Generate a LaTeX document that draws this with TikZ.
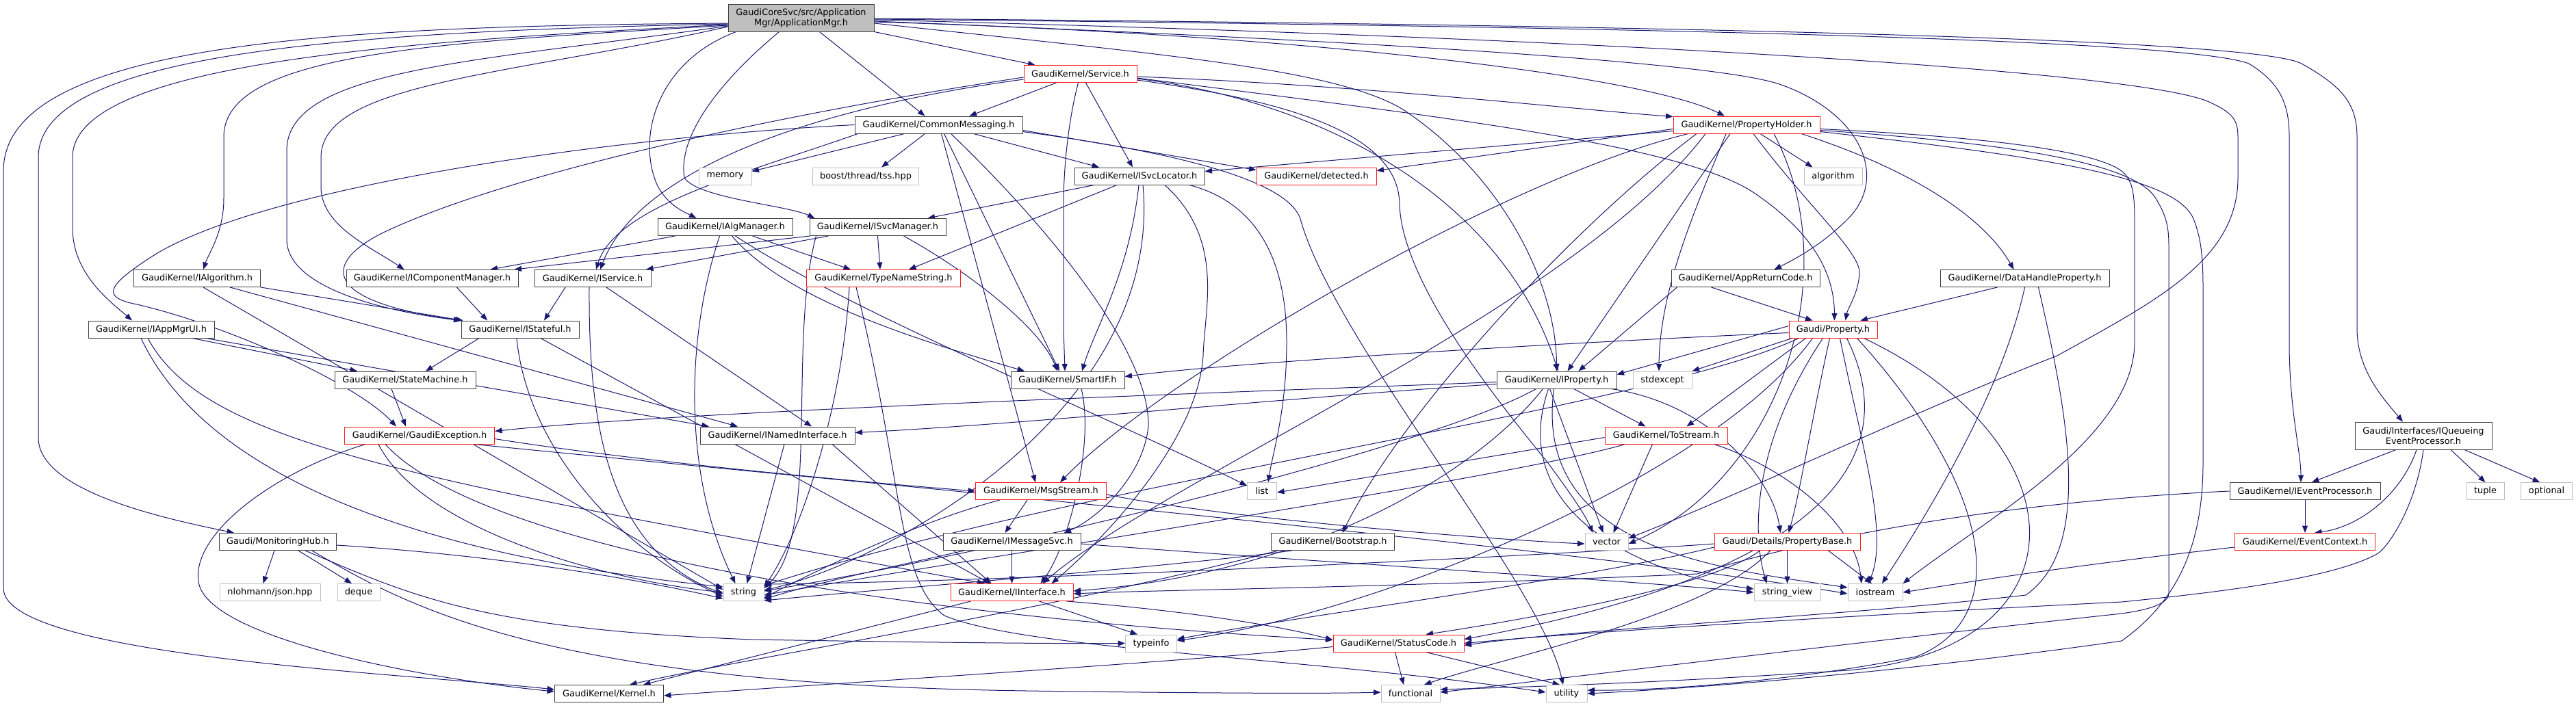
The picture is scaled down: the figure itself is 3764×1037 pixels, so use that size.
\documentclass[tikz,border=0pt]{standalone}
\usepackage{fontspec}
\setmainfont{DejaVu Sans}
\usetikzlibrary{arrows.meta}
\pgfdeclarelayer{bgfill}
\pgfdeclarelayer{edges}
\pgfsetlayers{bgfill,edges,main}
\definecolor{edgec}{HTML}{191970}
\definecolor{greyb}{HTML}{BFBFBF}
\definecolor{rootfill}{HTML}{BFBFBF}
\definecolor{darkb}{HTML}{404040}
\definecolor{redb}{HTML}{FF1A1A}
\begin{document}
\begin{tikzpicture}[x=1pt,y=-1pt,
  box/.style={draw=darkb, line width=1pt, fill=white, minimum height=25pt, inner sep=0pt, font=\fontsize{12.9}{15}\selectfont, align=center, text=black},
  redbox/.style={box, draw=redb},
  extbox/.style={box, draw=greyb},
  rootbox/.style={box, fill=rootfill, minimum height=40pt},
  tallbox/.style={box, minimum height=40pt},
  e/.style={draw=edgec, line width=1pt, -{Triangle[length=10.5pt,width=8pt]}}
]
\begin{pgfonlayer}{bgfill}
\fill[white] (0,0) rectangle (3764,1037);
\end{pgfonlayer}
\useasboundingbox (0,0) rectangle (3764,1037);

% ---------------- nodes ----------------
\node[rootbox,minimum width=213pt] (R) at (1170.5,26) {GaudiCoreSvc/src/Application\\Mgr/ApplicationMgr.h};
\node[redbox,minimum width=165pt] (Svc) at (1578.5,108) {GaudiKernel/Service.h};
\node[box,minimum width=245pt] (CM) at (1371.5,182.5) {GaudiKernel/CommonMessaging.h};
\node[redbox,minimum width=214pt] (PH) at (2552,182.5) {GaudiKernel/PropertyHolder.h};
\node[extbox,minimum width=77pt] (mem) at (1059.5,257.5) {memory};
\node[extbox,minimum width=155pt] (boost) at (1265,257.5) {boost/thread/tss.hpp};
\node[box,minimum width=190pt] (SL) at (1665,257.5) {GaudiKernel/ISvcLocator.h};
\node[redbox,minimum width=175pt] (det) at (1923.5,257.5) {GaudiKernel/detected.h};
\node[extbox,minimum width=85pt] (alg) at (2678.5,257.5) {algorithm};
\node[box,minimum width=197pt] (AM) at (1059.5,332) {GaudiKernel/IAlgManager.h};
\node[box,minimum width=199pt] (SM) at (1282.5,332) {GaudiKernel/ISvcManager.h};
\node[box,minimum width=185pt] (IA) at (288,407) {GaudiKernel/IAlgorithm.h};
\node[box,minimum width=251pt] (ICM) at (631.5,407) {GaudiKernel/IComponentManager.h};
\node[box,minimum width=170pt] (IS) at (866,407) {GaudiKernel/IService.h};
\node[redbox,minimum width=225pt] (TNS) at (1291,407) {GaudiKernel/TypeNameString.h};
\node[box,minimum width=217pt] (ARC) at (2550.5,407) {GaudiKernel/AppReturnCode.h};
\node[box,minimum width=247pt] (DHP) at (2958.5,407) {GaudiKernel/DataHandleProperty.h};
\node[box,minimum width=184pt] (UI) at (221,481.5) {GaudiKernel/IAppMgrUI.h};
\node[box,minimum width=172pt] (ISt) at (760,481.5) {GaudiKernel/IStateful.h};
\node[redbox,minimum width=129pt] (Prop) at (2678.5,481.5) {Gaudi/Property.h};
\node[box,minimum width=206pt] (StM) at (592,555.5) {GaudiKernel/StateMachine.h};
\node[box,minimum width=166pt] (SIF) at (1560,555.5) {GaudiKernel/SmartIF.h};
\node[box,minimum width=175pt] (IP) at (2274.5,555.5) {GaudiKernel/IProperty.h};
\node[extbox,minimum width=86pt] (stdx) at (2429,555.5) {stdexcept};
\node[redbox,minimum width=219pt] (GE) at (613,636.5) {GaudiKernel/GaudiException.h};
\node[box,minimum width=226pt] (INI) at (1136,636.5) {GaudiKernel/INamedInterface.h};
\node[redbox,minimum width=179pt] (TS) at (2434.5,636.5) {GaudiKernel/ToStream.h};
\node[tallbox,minimum width=200pt] (IQ) at (3541,637) {Gaudi/Interfaces/IQueueing\\EventProcessor.h};
\node[redbox,minimum width=191pt] (MS) at (1521,718) {GaudiKernel/MsgStream.h};
\node[extbox,minimum width=43pt] (list) at (1844,718) {list};
\node[box,minimum width=220pt] (IEP) at (3368,718) {GaudiKernel/IEventProcessor.h};
\node[extbox,minimum width=55pt] (tuple) at (3631.5,718) {tuple};
\node[extbox,minimum width=75pt] (opt) at (3721,718) {optional};
\node[box,minimum width=171pt] (MH) at (406,792) {Gaudi/MonitoringHub.h};
\node[box,minimum width=201pt] (IMS) at (1478.5,792) {GaudiKernel/IMessageSvc.h};
\node[box,minimum width=180pt] (BS) at (1947.5,792) {GaudiKernel/Bootstrap.h};
\node[extbox,minimum width=63pt] (vec) at (2347.5,792) {vector};
\node[redbox,minimum width=213pt] (PB) at (2611.5,792) {Gaudi/Details/PropertyBase.h};
\node[redbox,minimum width=205pt] (EC) at (3368,792) {GaudiKernel/EventContext.h};
\node[extbox,minimum width=147pt] (json) at (394.5,866) {nlohmann/json.hpp};
\node[extbox,minimum width=62pt] (deque) at (524,866) {deque};
\node[extbox,minimum width=59pt] (str) at (1086.5,866) {string};
\node[redbox,minimum width=179pt] (II) at (1478.5,866) {GaudiKernel/IInterface.h};
\node[extbox,minimum width=97pt] (sv) at (2611.5,866) {string\_view};
\node[extbox,minimum width=80pt] (ios) at (2740,866) {iostream};
\node[extbox,minimum width=75pt] (ti) at (1682,940.5) {typeinfo};
\node[redbox,minimum width=191pt] (SC) at (2043.5,940.5) {GaudiKernel/StatusCode.h};
\node[box,minimum width=159pt] (K) at (890,1014) {GaudiKernel/Kernel.h};
\node[extbox,minimum width=86pt] (fun) at (2061,1014) {functional};
\node[extbox,minimum width=60pt] (util) at (2289,1014) {utility};

% ---------------- edges ----------------
\begin{pgfonlayer}{edges}
% root
\draw[e] ([yshift=-8pt]R.west) .. controls (500,38) and (5,60) .. (5,250) -- (5,860) .. controls (5,960) and (600,985) .. ([yshift=6pt]K.west);
\draw[e] ([yshift=-9pt]R.west) .. controls (520,46) and (56,75) .. (56,230) -- (56,640) .. controls (56,720) and (250,760) .. ([xshift=22pt]MH.north west);
\draw[e] ([yshift=-10pt]R.west) .. controls (600,60) and (106,90) .. (106,230) -- (106,333) .. controls (106,400) and (160,440) .. ([xshift=-28pt]UI.north);
\draw[e] ([yshift=-11pt]R.west) .. controls (650,62) and (327,75) .. (327,200) -- (327,290) .. controls (327,340) and (305,370) .. ([xshift=9pt]IA.north);
\draw[e] ([yshift=-12pt]R.west) .. controls (700,90) and (419,100) .. (419,220) -- (419,350) .. controls (419,420) and (560,455) .. (ISt.north west);
\draw[e] ([yshift=-13pt]R.west) .. controls (750,110) and (469,120) .. (469,230) -- (469,273) .. controls (469,330) and (540,360) .. ([xshift=-41pt]ICM.north);
\draw[e] ([xshift=-95pt]R.south) .. controls (960,90) and (930,200) .. (960,270) .. controls (975,300) and (1000,310) .. ([xshift=-42pt]AM.north);
\draw[e] ([xshift=-32pt]R.south) .. controls (1050,120) and (990,200) .. (1000,260) .. controls (1020,290) and (1150,300) .. ([xshift=-92pt]SM.north);
\draw[e] ([xshift=27pt]R.south) -- ([xshift=-20pt]CM.north);
\draw[e] (R.south east) -- ([xshift=-66pt]Svc.north);
\draw[e] ([yshift=-8pt]R.east) .. controls (1700,80) and (1950,100) .. (2050,160) .. controls (2200,260) and (2274,420) .. (IP.north);
\draw[e] ([yshift=-6pt]R.east) .. controls (1900,50) and (2400,110) .. ([xshift=-32pt]PH.north);
\draw[e] ([yshift=-5pt]R.east) .. controls (2000,60) and (2500,90) .. (2600,123) .. controls (2720,165) and (2760,260) .. (2700,320) .. controls (2660,360) and (2620,380) .. ([xshift=42pt]ARC.north);
\draw[e] ([yshift=-2pt]R.east) .. controls (2500,40) and (3200,60) .. (3286,93) .. controls (3330,120) and (3345,150) .. (3345,200) -- (3345,500) .. controls (3345,600) and (3362,660) .. ([xshift=-6pt]IEP.north);
\draw[e] ([yshift=-1pt]R.east) .. controls (2600,38) and (3300,60) .. (3363,93) .. controls (3420,125) and (3444,150) .. (3444,200) -- (3444,480) .. controls (3444,540) and (3480,580) .. ([xshift=-30pt]IQ.north);
\draw[e] ([yshift=-3pt]R.east) .. controls (2500,60) and (3150,110) .. (3230,150) .. controls (3262,165) and (3270,175) .. (3270,200) -- (3270,260) .. controls (3270,380) and (3150,440) .. (3006,520) .. controls (2800,600) and (2550,720) .. ([yshift=5pt]vec.east);
% Service
\draw[e] ([xshift=-35pt]Svc.south) -- ([xshift=45pt]CM.north);
\draw[e] ([xshift=8pt]Svc.south) -- ([xshift=-10pt]SL.north);
\draw[e] ([xshift=-3pt]Svc.south) .. controls (1560,180) and (1554,250) .. (1554,300) -- (1554,480) -- ([xshift=-4pt]SIF.north);
\draw[e] ([yshift=-4pt]Svc.east) .. controls (2000,125) and (2300,160) .. ([yshift=12pt]PH.west);
\draw[e] ([yshift=-6pt]Svc.east) .. controls (2100,170) and (2450,210) .. (2560,280) .. controls (2650,340) and (2680,400) .. ([xshift=2pt]Prop.north);
\draw[e] ([yshift=-9pt]Svc.east) .. controls (1900,150) and (2045,200) .. (2045,300) .. controls (2050,420) and (2200,600) .. (2262,677) .. controls (2290,715) and (2315,750) .. ([xshift=-20pt]vec.north);
\draw[e] ([yshift=-7pt]Svc.east) .. controls (1950,150) and (2200,300) .. ([xshift=2pt]IP.north);
\draw[e] ([yshift=-8pt]Svc.west) .. controls (1100,170) and (920,280) .. ([xshift=11pt]IS.north);
\draw[e] ([yshift=-5pt]Svc.west) .. controls (1150,165) and (750,250) .. (560,340) .. controls (470,385) and (470,440) .. (ISt.north west);
% CommonMessaging
\draw[e] ([xshift=-20pt]CM.south) -- ([xshift=23pt]boost.north);
\draw[e] ([xshift=-50pt]CM.south) -- ([yshift=7pt]mem.east);
\draw[e] ([xshift=51pt]CM.south) -- ([xshift=-59pt]SL.north);
\draw[e] ([yshift=-8pt]CM.east) -- ([yshift=9pt]det.west);
\draw[e] ([xshift=8pt]CM.south) -- ([xshift=-12pt]SIF.north);
\draw[e] ([xshift=4pt]CM.south) -- ([xshift=-8pt]MS.north);
\draw[e] ([xshift=18pt]CM.south) .. controls (1550,350) and (1680,520) .. (1678,623) .. controls (1670,700) and (1600,760) .. ([xshift=76pt]IMS.north);
\draw[e] ([yshift=-10pt]CM.east) .. controls (1700,220) and (1880,260) .. (1900,320) .. controls (1950,500) and (2250,850) .. ([xshift=-5pt]util.north);
\draw[e] (CM.west) .. controls (900,200) and (400,270) .. (230,370) .. controls (150,420) and (150,435) .. (200,445) .. controls (330,475) and (520,560) .. ([xshift=-34pt]GE.north);
\draw[e] ([xshift=5pt]CM.south west) .. controls (1100,250) and (900,300) .. ([xshift=5pt]IS.north);
% PropertyHolder
\draw[e] ([yshift=-6pt]PH.west) -- ([yshift=8pt]det.east);
\draw[e] ([yshift=-9pt]PH.west) -- ([yshift=7pt]SL.east);
\draw[e] ([xshift=20pt]PH.south) -- ([xshift=-30pt]alg.north);
\draw[e] ([xshift=80pt]PH.south) .. controls (2800,250) and (2900,320) .. ([xshift=-16pt]DHP.north);
\draw[e] ([xshift=10pt]PH.south) .. controls (2640,300) and (2720,370) .. (2717,400) .. controls (2715,430) and (2700,450) .. ([xshift=18pt]Prop.north);
\draw[e] ([xshift=-24pt]PH.south) -- ([xshift=16pt]IP.north);
\draw[e] ([xshift=-85pt]PH.south) .. controls (2200,260) and (1700,550) .. ([xshift=28pt]MS.north);
\draw[e] ([xshift=-73pt]PH.south) .. controls (2300,330) and (2050,600) .. ([xshift=14pt]BS.north);
\draw[e] ([xshift=-60pt]PH.south) .. controls (2300,450) and (1700,700) .. ([xshift=45pt]II.north);
\draw[e] ([xshift=-30pt]PH.south) .. controls (2480,300) and (2425,420) .. ([xshift=-5pt]stdx.north);
\draw[e] ([xshift=40pt]PH.south) .. controls (2700,400) and (2600,700) .. ([yshift=-3pt]vec.east);
\draw[e] ([yshift=-6pt]PH.east) .. controls (2900,200) and (3060,220) .. (3100,250) .. controls (3115,262) and (3119,280) .. (3119,320) -- (3119,500) .. controls (3119,640) and (2900,760) .. (ios.north east);
\draw[e] ([yshift=-8pt]PH.east) .. controls (2950,210) and (3120,240) .. (3150,290) .. controls (3165,315) and (3169,330) .. (3169,360) -- (3169,867) .. controls (3169,880) and (3150,890) .. (3100,897) .. controls (2700,940) and (2300,990) .. ([yshift=2pt]fun.east);
\draw[e] ([yshift=-10pt]PH.east) .. controls (3000,230) and (3180,260) .. (3205,320) .. controls (3215,345) and (3219,370) .. (3219,420) -- (3219,677) .. controls (3219,800) and (3180,880) .. (3100,937) .. controls (2800,980) and (2500,1005) .. (util.east);
% ISvcLocator
\draw[e] ([xshift=-66pt]SL.south) -- ([xshift=73pt]SM.north);
\draw[e] ([xshift=-33pt]SL.south) -- ([xshift=37pt]TNS.north);
\draw[e] ([xshift=-1pt]SL.south) .. controls (1650,400) and (1600,480) .. ([xshift=21pt]SIF.north);
\draw[e] ([xshift=37pt]SL.south) .. controls (1790,350) and (1760,450) .. (1758,520) .. controls (1750,650) and (1600,800) .. ([xshift=58pt]II.north);
\draw[e] ([xshift=73pt]SL.south) .. controls (1850,300) and (1880,400) .. (1880,500) .. controls (1880,600) and (1860,660) .. ([xshift=9pt]list.north);
\draw[e] ([xshift=5pt]SL.south) .. controls (1700,600) and (1300,820) .. ([yshift=3pt]str.east);
% IAlgManager
\draw[e] ([xshift=-73pt]AM.south) -- ([xshift=85pt]ICM.north);
\draw[e] ([xshift=40pt]AM.south) -- ([xshift=-48pt]TNS.north);
\draw[e] ([xshift=10pt]AM.south) .. controls (1150,440) and (1350,500) .. ([xshift=-63pt]SIF.north);
\draw[e] ([xshift=15pt]AM.south) .. controls (1250,460) and (1600,600) .. ([yshift=8pt]list.west);
\draw[e] ([xshift=-8pt]AM.south) .. controls (1000,500) and (1000,700) .. ([xshift=-12pt]str.north);
% ISvcManager
\draw[e] ([xshift=-99pt]SM.south) -- ([xshift=120pt]ICM.north);
\draw[e] ([xshift=-72pt]SM.south) -- ([xshift=78pt]IS.north);
\draw[e] (SM.south) -- ([xshift=-5pt]TNS.north);
\draw[e] ([xshift=38pt]SM.south) .. controls (1420,400) and (1520,480) .. ([xshift=-15pt]SIF.north);
\draw[e] ([xshift=-90pt]SM.south) .. controls (1150,500) and (1200,780) .. ([yshift=6pt]str.east);
% IAlgorithm, IComponentManager, IService
\draw[e] (IA.south east) -- ([xshift=3pt]ISt.north west);
\draw[e] ([xshift=48pt]IA.south) -- ([xshift=-58pt]INI.north);
\draw[e] ([xshift=9pt]IA.south) -- ([yshift=4pt]str.west);
\draw[e] ([xshift=-90pt]ICM.south east) -- ([xshift=-48pt]ISt.north);
\draw[e] ([xshift=-40pt]IS.south) -- ([xshift=35pt]ISt.north);
\draw[e] ([xshift=-5pt]IS.south) .. controls (860,600) and (880,800) .. ([yshift=-2pt]str.west);
\draw[e] ([xshift=20pt]IS.south) -- ([xshift=50pt]INI.north);
% TypeNameString, AppReturnCode, DataHandleProperty
\draw[e] ([xshift=-50pt]TNS.south) .. controls (1230,600) and (1170,780) .. ([yshift=8pt]str.east);
\draw[e] ([xshift=-40pt]TNS.south) .. controls (1320,700) and (1310,850) .. (1380,900) .. controls (1500,950) and (1900,960) .. ([yshift=2pt]util.west);
\draw[e] ([xshift=-50pt]ARC.south) -- ([xshift=-30pt]Prop.north);
\draw[e] ([xshift=-100pt]ARC.south) -- ([xshift=32pt]IP.north);
\draw[e] ([xshift=-40pt]DHP.south) -- ([xshift=40pt]Prop.north);
\draw[e] ([xshift=0pt]DHP.south) .. controls (2930,550) and (2850,700) .. ([xshift=10pt]ios.north);
\draw[e] ([xshift=20pt]DHP.south) .. controls (3020,600) and (3060,800) .. (2960,870) .. controls (2700,900) and (2300,920) .. ([yshift=-3pt]SC.east);
% IAppMgrUI, IStateful
\draw[e] ([xshift=60pt]UI.south) -- ([xshift=-70pt]StM.north);
\draw[e] ([xshift=80pt]UI.south) -- ([xshift=-100pt]INI.north);
\draw[e] ([xshift=-5pt]UI.south) .. controls (300,650) and (600,700) .. ([xshift=-40pt]II.north);
\draw[e] ([xshift=-15pt]UI.south) .. controls (280,650) and (500,800) .. ([yshift=8pt]str.west);
\draw[e] ([xshift=-60pt]ISt.south) -- ([xshift=30pt]StM.north);
\draw[e] ([xshift=-5pt]ISt.south) .. controls (770,650) and (900,800) .. ([yshift=-6pt]str.west);
\draw[e] ([xshift=30pt]ISt.south) -- ([xshift=-32pt]II.north);
% Gaudi/Property.h
\draw[e] ([yshift=5pt]Prop.west) -- ([yshift=-5pt]IP.north east);
\draw[e] ([xshift=-60pt]Prop.south) -- (stdx.north east);
\draw[e] ([yshift=-5pt]Prop.west) .. controls (2300,500) and (1800,530) .. ([yshift=5pt]SIF.east);
\draw[e] ([xshift=-40pt]Prop.south) -- ([xshift=30pt]TS.north);
\draw[e] ([xshift=-5pt]Prop.south) .. controls (2650,600) and (2630,720) .. ([xshift=2pt]PB.north);
\draw[e] ([xshift=-15pt]Prop.south) .. controls (2560,650) and (2560,780) .. ([xshift=-30pt]sv.north);
\draw[e] ([xshift=10pt]Prop.south) .. controls (2720,650) and (2760,780) .. ([xshift=-10pt]ios.north);
\draw[e] ([xshift=35pt]Prop.south) .. controls (2900,700) and (2950,900) .. (2800,960) .. controls (2600,1000) and (2400,1010) .. ([yshift=5pt]util.east);
\draw[e] ([xshift=45pt]Prop.south) .. controls (3050,650) and (3050,950) .. (2700,980) .. controls (2400,1000) and (2200,1005) .. ([yshift=6pt]fun.east);
\draw[e] ([xshift=20pt]Prop.south) .. controls (2800,700) and (2600,850) .. ([yshift=6pt]SC.east);
\draw[e] ([xshift=-50pt]Prop.south) .. controls (2400,600) and (1600,700) .. ([yshift=10pt]str.east);
\draw[e] ([xshift=-30pt]Prop.south) .. controls (2500,700) and (2000,900) .. ([yshift=4pt]ti.east);
% StateMachine, SmartIF
\draw[e] ([xshift=-20pt]StM.south) -- ([xshift=-20pt]GE.north);
\draw[e] ([xshift=20pt]SIF.south) .. controls (1600,650) and (1560,800) .. ([xshift=42pt]II.north);
% IProperty
\draw[e] ([yshift=-3pt]IP.west) .. controls (1900,570) and (1000,600) .. ([yshift=6pt]GE.east);
\draw[e] ([yshift=-6pt]IP.west) .. controls (1900,580) and (1500,620) .. ([yshift=4pt]INI.east);
\draw[e] ([xshift=25pt]IP.south) -- ([xshift=-30pt]TS.north);
\draw[e] ([xshift=-10pt]IP.south) -- ([xshift=-5pt]vec.north);
\draw[e] ([xshift=80pt]IP.south) .. controls (2500,590) and (2590,700) .. ([xshift=-10pt]PB.north);
\draw[e] ([xshift=-30pt]IP.south) .. controls (2100,650) and (1500,800) .. ([yshift=2pt]str.east);
\draw[e] ([xshift=-20pt]IP.south) .. controls (2150,700) and (1900,840) .. ([yshift=2pt]II.east);
\draw[e] ([xshift=-12pt]IP.south) .. controls (2200,750) and (2400,840) .. ([yshift=5pt]sv.west);
\draw[e] ([xshift=-4pt]IP.south) .. controls (2240,800) and (2500,830) .. ([yshift=7pt]ios.west);
% GaudiException
\draw[e] ([xshift=-79pt]GE.south) .. controls (400,690) and (280,780) .. (290,850) .. controls (300,930) and (600,990) .. ([yshift=3pt]K.west);
\draw[e] ([yshift=-5pt]GE.east) .. controls (900,670) and (1200,700) .. (MS.west);
\draw[e] ([xshift=-60pt]GE.south) .. controls (620,780) and (900,850) .. (str.west);
\draw[e] ([xshift=-50pt]GE.south) .. controls (700,800) and (1300,900) .. ([yshift=5pt]SC.west);
\draw[e] ([xshift=80pt]GE.south) .. controls (1200,700) and (2300,800) .. ([yshift=-2pt]ios.west);
% INamedInterface
\draw[e] ([xshift=10pt]INI.south) -- ([xshift=5pt]str.north);
\draw[e] ([xshift=80pt]INI.south) -- ([xshift=-30pt]II.north);
% ToStream
\draw[e] ([yshift=-3pt]TS.west) -- ([yshift=-2pt]list.east);
\draw[e] ([xshift=-20pt]TS.south) -- ([xshift=10pt]vec.north);
\draw[e] ([xshift=-60pt]TS.south) .. controls (2200,700) and (1400,820) .. ([yshift=-4pt]str.east);
\draw[e] ([xshift=70pt]TS.south) .. controls (2600,680) and (2710,760) .. ([xshift=-20pt]ios.north);
% IQueueing, IEventProcessor, EventContext
\draw[e] ([xshift=-40pt]IQ.south) -- ([xshift=10pt]IEP.north);
\draw[e] ([xshift=-10pt]IQ.south) .. controls (3510,720) and (3450,770) .. ([xshift=14pt]EC.north);
\draw[e] ([xshift=40pt]IQ.south) -- (tuple.north);
\draw[e] ([xshift=60pt]IQ.south) -- ([xshift=-10pt]opt.north);
\draw[e] ([xshift=0pt]IQ.south) .. controls (3530,740) and (3490,800) .. (3473,810) .. controls (3400,850) and (3200,870) .. (3100,880) .. controls (2700,900) and (2300,925) .. (SC.east);
\draw[e] (IEP.south) -- (EC.north);
\draw[e] (IEP.west) .. controls (3000,730) and (2700,770) .. (2480,839) .. controls (2000,860) and (1700,862) .. ([yshift=-2pt]II.east);
\draw[e] ([yshift=-8pt]EC.west) .. controls (3000,830) and (2850,855) .. (ios.east);
% MsgStream, IMessageSvc
\draw[e] ([xshift=-20pt]MS.south) -- ([xshift=-10pt]IMS.north);
\draw[e] ([xshift=-60pt]MS.south) .. controls (1350,760) and (1200,830) .. ([yshift=-8pt]str.east);
\draw[e] ([yshift=-5pt]MS.east) .. controls (1800,760) and (2200,790) .. ([yshift=-3pt]vec.west);
\draw[e] (IMS.south) -- (II.north);
\draw[e] ([xshift=-70pt]IMS.south) .. controls (1300,830) and (1200,850) .. ([yshift=-10pt]str.east);
\draw[e] ([yshift=-3pt]IMS.east) .. controls (1900,820) and (2400,850) .. (sv.west);
% MonitoringHub
\draw[e] ([xshift=-5pt]MH.south) -- ([xshift=-10pt]json.north);
\draw[e] ([xshift=30pt]MH.south) -- ([xshift=-10pt]deque.north);
\draw[e] ([yshift=-5pt]MH.east) .. controls (700,810) and (900,840) .. ([yshift=-9pt]str.west);
\draw[e] ([xshift=40pt]MH.south) .. controls (600,870) and (700,920) .. (1100,935) .. controls (1400,940) and (1550,941) .. (ti.west);
\draw[e] ([xshift=50pt]MH.south) .. controls (600,890) and (800,1000) .. (1500,1010) .. controls (1800,1014) and (1950,1014) .. ([yshift=2pt]fun.west);
% Bootstrap
\draw[e] ([xshift=-60pt]BS.south) .. controls (1700,830) and (1300,860) .. ([yshift=-12pt]str.east);
\draw[e] ([xshift=-80pt]BS.south) .. controls (1500,900) and (1100,960) .. ([xshift=30pt]K.north);
% PropertyBase
\draw[e] (PB.south) -- (sv.north);
\draw[e] ([xshift=60pt]PB.south) -- ([xshift=-5pt]ios.north);
\draw[e] ([yshift=-3pt]PB.west) .. controls (2300,810) and (1500,850) .. ([yshift=12pt]str.east);
\draw[e] ([yshift=-8pt]PB.west) .. controls (2300,850) and (1900,900) .. ([yshift=6pt]ti.east);
\draw[e] ([xshift=-40pt]PB.south) .. controls (2500,860) and (2200,910) .. ([xshift=40pt]SC.north);
\draw[e] ([xshift=-25pt]PB.south) .. controls (2500,900) and (2200,960) .. ([xshift=20pt]fun.north);
% IInterface
\draw[e] ([xshift=40pt]II.south) -- ([xshift=-20pt]ti.north);
\draw[e] ([xshift=80pt]II.south) .. controls (1700,890) and (1850,910) .. ([yshift=5pt]SC.west);
\draw[e] ([xshift=-60pt]II.south) -- ([xshift=50pt]K.north);
% StatusCode
\draw[e] ([xshift=-5pt]SC.south) -- ([xshift=-10pt]fun.north);
\draw[e] ([xshift=40pt]SC.south) -- ([xshift=-10pt]util.north);
\draw[e] ([yshift=-5pt]SC.west) .. controls (1700,970) and (1200,1000) .. ([yshift=-3pt]K.east);
\end{pgfonlayer}
\end{tikzpicture}
\end{document}
